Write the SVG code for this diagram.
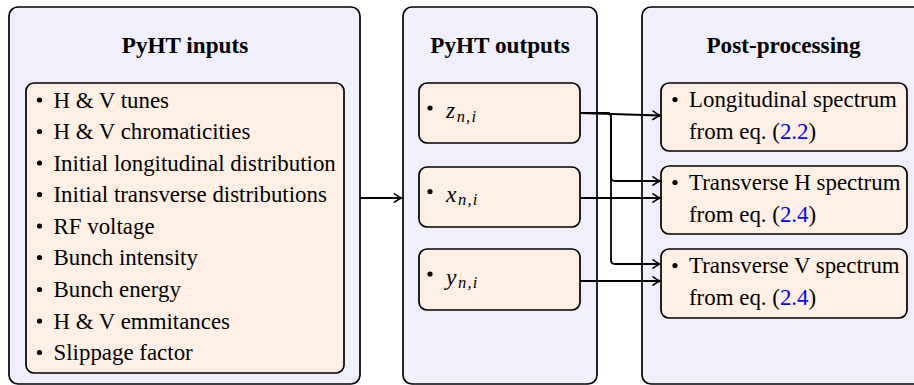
<svg xmlns="http://www.w3.org/2000/svg" width="914" height="385" viewBox="0 0 914 385">
  <style>
    .outer { fill: #f0f0fd; stroke: #000; stroke-width: 1.7; }
    .inner { fill: #fff0e5; stroke: #000; stroke-width: 1.7; }
    .title { font-family: "Liberation Serif", "Times New Roman", serif; font-weight: bold; font-size: 23.2px; text-anchor: middle; fill: #000; }
    .body { font-family: "Liberation Serif", "Times New Roman", serif; font-size: 22.9px; fill: #000; }
    .math { font-family: "Liberation Serif", "Times New Roman", serif; font-style: italic; font-size: 23.5px; fill: #000; }
    .sub { font-size: 16.5px; letter-spacing: 1.2px; }
    .ref { fill: #0000ff; }
    .dot { fill: #000; }
    .wire { fill: none; stroke: #000; stroke-width: 1.8; marker-end: url(#tip); }
  </style>
  <defs>
    <marker id="tip" markerUnits="userSpaceOnUse" markerWidth="12" markerHeight="12" viewBox="-9 -6 11 12" refX="0" refY="0" orient="auto">
      <path d="M-7,-4.2 Q-2.5,-1 0,0 Q-2.5,1 -7,4.2" fill="none" stroke="#000" stroke-width="1.6" stroke-linecap="round"/>
    </marker>
  </defs>

  <rect width="914" height="385" fill="#fff"/>

  <!-- Column 1: simulation inputs -->
  <g id="inputs">
    <rect class="outer" x="9" y="7" width="351" height="377" rx="9"/>
    <text class="title" x="185" y="53">PyHT inputs</text>
    <g id="input-list">
      <rect class="inner" x="26" y="83" width="318" height="290" rx="8"/>
      <g class="dot">
        <circle cx="39.5" cy="100" r="2.6"/>
        <circle cx="39.5" cy="131.5" r="2.6"/>
        <circle cx="39.5" cy="163" r="2.6"/>
        <circle cx="39.5" cy="194.5" r="2.6"/>
        <circle cx="39.5" cy="226" r="2.6"/>
        <circle cx="39.5" cy="257.5" r="2.6"/>
        <circle cx="39.5" cy="289.5" r="2.6"/>
        <circle cx="39.5" cy="321" r="2.6"/>
        <circle cx="39.5" cy="352.5" r="2.6"/>
      </g>
      <text class="body" x="53.5" y="107.5">H &amp; V tunes</text>
      <text class="body" x="53.5" y="139">H &amp; V chromaticities</text>
      <text class="body" x="53.5" y="170.5">Initial longitudinal distribution</text>
      <text class="body" x="53.5" y="202">Initial transverse distributions</text>
      <text class="body" x="53.5" y="233.5">RF voltage</text>
      <text class="body" x="53.5" y="265">Bunch intensity</text>
      <text class="body" x="53.5" y="297">Bunch energy</text>
      <text class="body" x="53.5" y="328.5">H &amp; V emmitances</text>
      <text class="body" x="53.5" y="360">Slippage factor</text>
    </g>
  </g>

  <!-- Column 2: simulation outputs -->
  <g id="outputs">
    <rect class="outer" x="403" y="7" width="194" height="377" rx="9"/>
    <text class="title" x="500" y="53">PyHT outputs</text>
  </g>
  <g id="out-z">
    <rect class="inner" x="419" y="83" width="161" height="60" rx="8"/>
    <circle class="dot" cx="430" cy="108" r="2.6"/>
    <text class="math" x="446" y="118">z<tspan class="sub" dx="1.5" dy="3.5">n,i</tspan></text>
  </g>
  <g id="out-x">
    <rect class="inner" x="419" y="167" width="161" height="60" rx="8"/>
    <circle class="dot" cx="430" cy="191.5" r="2.6"/>
    <text class="math" x="446" y="201.5">x<tspan class="sub" dx="1.5" dy="3.5">n,i</tspan></text>
  </g>
  <g id="out-y">
    <rect class="inner" x="419" y="249" width="161" height="61" rx="8"/>
    <circle class="dot" cx="430" cy="274" r="2.6"/>
    <text class="math" x="446" y="284.5">y<tspan class="sub" dx="1.5" dy="3.5">n,i</tspan></text>
  </g>

  <!-- Column 3: post-processing -->
  <g id="post">
    <rect class="outer" x="642" y="7" width="290" height="377" rx="9"/>
    <text class="title" x="783.5" y="53">Post-processing</text>
  </g>
  <g id="post-long">
    <rect class="inner" x="661" y="83" width="246" height="68" rx="8"/>
    <circle class="dot" cx="675" cy="99.5" r="2.6"/>
    <text class="body" x="689" y="106.5">Longitudinal spectrum</text>
    <text class="body" x="689" y="139">from eq. (<tspan class="ref">2.2</tspan>)</text>
  </g>
  <g id="post-h">
    <rect class="inner" x="661" y="166" width="246" height="68" rx="8"/>
    <circle class="dot" cx="675" cy="182.5" r="2.6"/>
    <text class="body" x="689" y="189.5">Transverse H spectrum</text>
    <text class="body" x="689" y="222">from eq. (<tspan class="ref">2.4</tspan>)</text>
  </g>
  <g id="post-v">
    <rect class="inner" x="661" y="249" width="246" height="69" rx="8"/>
    <circle class="dot" cx="675" cy="265.5" r="2.6"/>
    <text class="body" x="689" y="272.5">Transverse V spectrum</text>
    <text class="body" x="689" y="305">from eq. (<tspan class="ref">2.4</tspan>)</text>
  </g>

  <!-- Connectors -->
  <g id="connectors">
    <path class="wire" d="M360,198 H401.5"/>
    <path class="wire" d="M580,113 L660,115.5"/>
    <path class="wire" d="M580,113 H607 Q611,113 611,117 V177 Q611,181 615,181 H660"/>
    <path class="wire" d="M580,113 H607 Q611,113 611,117 V260 Q611,264 615,264 H660"/>
    <path class="wire" d="M580,198 H660"/>
    <path class="wire" d="M580,281 H660"/>
  </g>
</svg>
